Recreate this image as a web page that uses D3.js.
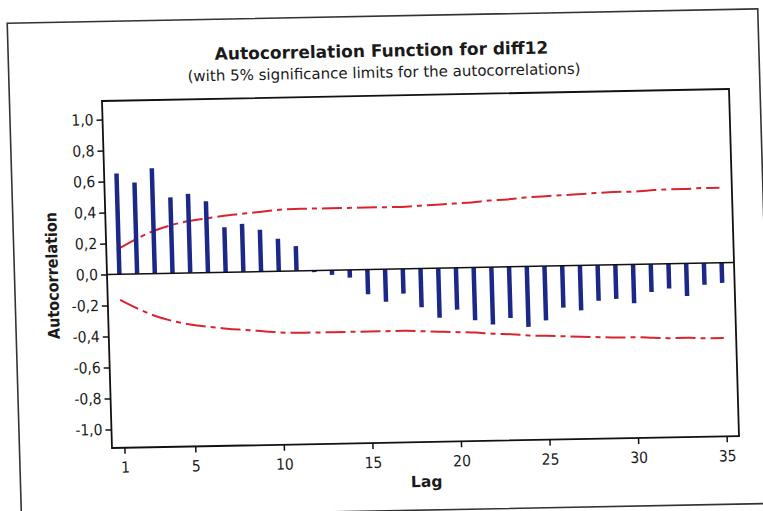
<!DOCTYPE html>
<html>
<head>
<meta charset="utf-8">
<script src="https://cdn.jsdelivr.net/npm/d3@7"></script>
<style>
  html, body { margin: 0; padding: 0; background: #fff; }
  svg { display: block; }
  text { font-family: "DejaVu Sans Condensed", "DejaVu Sans", sans-serif; font-stretch: condensed; fill: #1a1a1a; }
  text.wide { font-family: "DejaVu Sans", sans-serif; font-stretch: normal; }
</style>
</head>
<body>
<svg id="chart" width="763" height="511"></svg>
<script>
// Lags of the autocorrelation function
const lags = [1, 2, 3, 4, 5, 6, 7, 8, 9, 10, 11, 12, 13, 14, 15, 16, 17, 18,
              19, 20, 21, 22, 23, 24, 25, 26, 27, 28, 29, 30, 31, 32, 33, 34, 35];

// Sample autocorrelation of diff12 at each lag
const acf = [0.65, 0.59, 0.68, 0.49, 0.51, 0.46, 0.29, 0.31, 0.27, 0.21, 0.16,
             -0.01, -0.03, -0.05, -0.16, -0.21, -0.16, -0.25, -0.32, -0.27, -0.34,
             -0.37, -0.33, -0.39, -0.35, -0.27, -0.29, -0.23, -0.22, -0.25, -0.18,
             -0.16, -0.21, -0.14, -0.13];

// 5% significance limit (drawn as +limit and -limit)
const limit = [0.165, 0.225, 0.275, 0.31, 0.335, 0.35, 0.365, 0.375, 0.385, 0.395,
               0.40, 0.40, 0.40, 0.40, 0.40, 0.40, 0.40, 0.405, 0.41, 0.415,
               0.42, 0.43, 0.435, 0.445, 0.45, 0.455, 0.46, 0.465, 0.47, 0.47,
               0.475, 0.48, 0.48, 0.485, 0.485];

const xTicks = [1, 5, 10, 15, 20, 25, 30, 35];
const yTicks = [-1.0, -0.8, -0.6, -0.4, -0.2, 0.0, 0.2, 0.4, 0.6, 0.8, 1.0];

const titleText = "Autocorrelation Function for diff12";
const subtitleText = "(with 5% significance limits for the autocorrelations)";
const xLabel = "Lag";
const yLabel = "Autocorrelation";

// Layout
const plot = { left: 102, top: 101, right: 729, bottom: 448 };
const page = { left: 9.5, top: 21.5, right: 760, bottom: 516 };

const svg = d3.select("#chart");
// the printed page sits slightly skewed on the sheet
const root = svg.append("g")
  .attr("transform", "matrix(1,-0.0191,0.0288,1,-2.91,1.95)");

const x = d3.scaleLinear().domain([0.3, 35.7]).range([plot.left, plot.right]);
const y = d3.scaleLinear().domain([-1.12, 1.12]).range([plot.bottom, plot.top]);

const commaFmt = d3.formatLocale({
  decimal: ",", thousands: ".", grouping: [3], currency: ["", ""], minus: "-"
}).format(".1f");

// outer frame
root.append("rect")
  .attr("x", page.left).attr("y", page.top)
  .attr("width", page.right - page.left).attr("height", page.bottom - page.top)
  .attr("fill", "none").attr("stroke", "#333").attr("stroke-width", 1.6);

// titles
root.append("text")
  .attr("class", "wide")
  .attr("x", (page.left + page.right) / 2 - 2).attr("y", 62)
  .attr("text-anchor", "middle")
  .style("font-weight", "bold").style("font-size", "17px")
  .text(titleText);

root.append("text")
  .attr("class", "wide")
  .attr("x", (page.left + page.right) / 2).attr("y", 83)
  .attr("text-anchor", "middle")
  .style("font-size", "15px")
  .text(subtitleText);

// significance limits
const limitLine = (sign) => d3.line()
  .x((d, i) => x(lags[i]))
  .y(d => y(sign * d))
  .curve(d3.curveMonotoneX);

[1, -1].forEach(sign => {
  root.append("path")
    .datum(limit)
    .attr("d", limitLine(sign))
    .attr("fill", "none")
    .attr("stroke", "#d9232d")
    .attr("stroke-width", 2)
    .attr("stroke-dasharray", "20,5,5,5");
});

// autocorrelation bars
root.append("g")
  .selectAll("line")
  .data(acf)
  .join("line")
  .attr("x1", (d, i) => x(lags[i]))
  .attr("x2", (d, i) => x(lags[i]))
  .attr("y1", y(0))
  .attr("y2", d => y(d))
  .attr("stroke", "#1b2888")
  .attr("stroke-width", 4.5);

// zero reference line
root.append("line")
  .attr("x1", plot.left).attr("x2", plot.right)
  .attr("y1", y(0)).attr("y2", y(0))
  .attr("stroke", "#111").attr("stroke-width", 1.5);

// plot frame
root.append("rect")
  .attr("x", plot.left).attr("y", plot.top)
  .attr("width", plot.right - plot.left).attr("height", plot.bottom - plot.top)
  .attr("fill", "none").attr("stroke", "#111").attr("stroke-width", 1.8);

// axes
const yAxis = root.append("g")
  .attr("transform", `translate(${plot.left},0)`)
  .call(d3.axisLeft(y).tickValues(yTicks).tickFormat(commaFmt).tickSize(6).tickSizeOuter(0).tickPadding(3));

const xAxis = root.append("g")
  .attr("transform", `translate(0,${plot.bottom})`)
  .call(d3.axisBottom(x).tickValues(xTicks).tickFormat(d3.format("d")).tickSize(6).tickSizeOuter(0).tickPadding(8));

[yAxis, xAxis].forEach(ax => {
  ax.select(".domain").remove();
  ax.selectAll(".tick line").attr("stroke", "#111").attr("stroke-width", 1.5);
  ax.selectAll(".tick text")
    .attr("fill", "#1a1a1a")
    .style("font-family", "'DejaVu Sans Condensed', 'DejaVu Sans', sans-serif")
    .style("font-size", "15.5px");
});

// axis titles
root.append("text")
  .attr("class", "wide")
  .attr("x", (plot.left + plot.right) / 2).attr("y", 493)
  .attr("text-anchor", "middle")
  .style("font-weight", "bold").style("font-size", "15.5px")
  .text(xLabel);

root.append("text")
  .attr("transform", `translate(53,${(plot.top + plot.bottom) / 2}) rotate(-90)`)
  .attr("text-anchor", "middle")
  .style("font-weight", "bold").style("font-size", "16px")
  .text(yLabel);
</script>
</body>
</html>
